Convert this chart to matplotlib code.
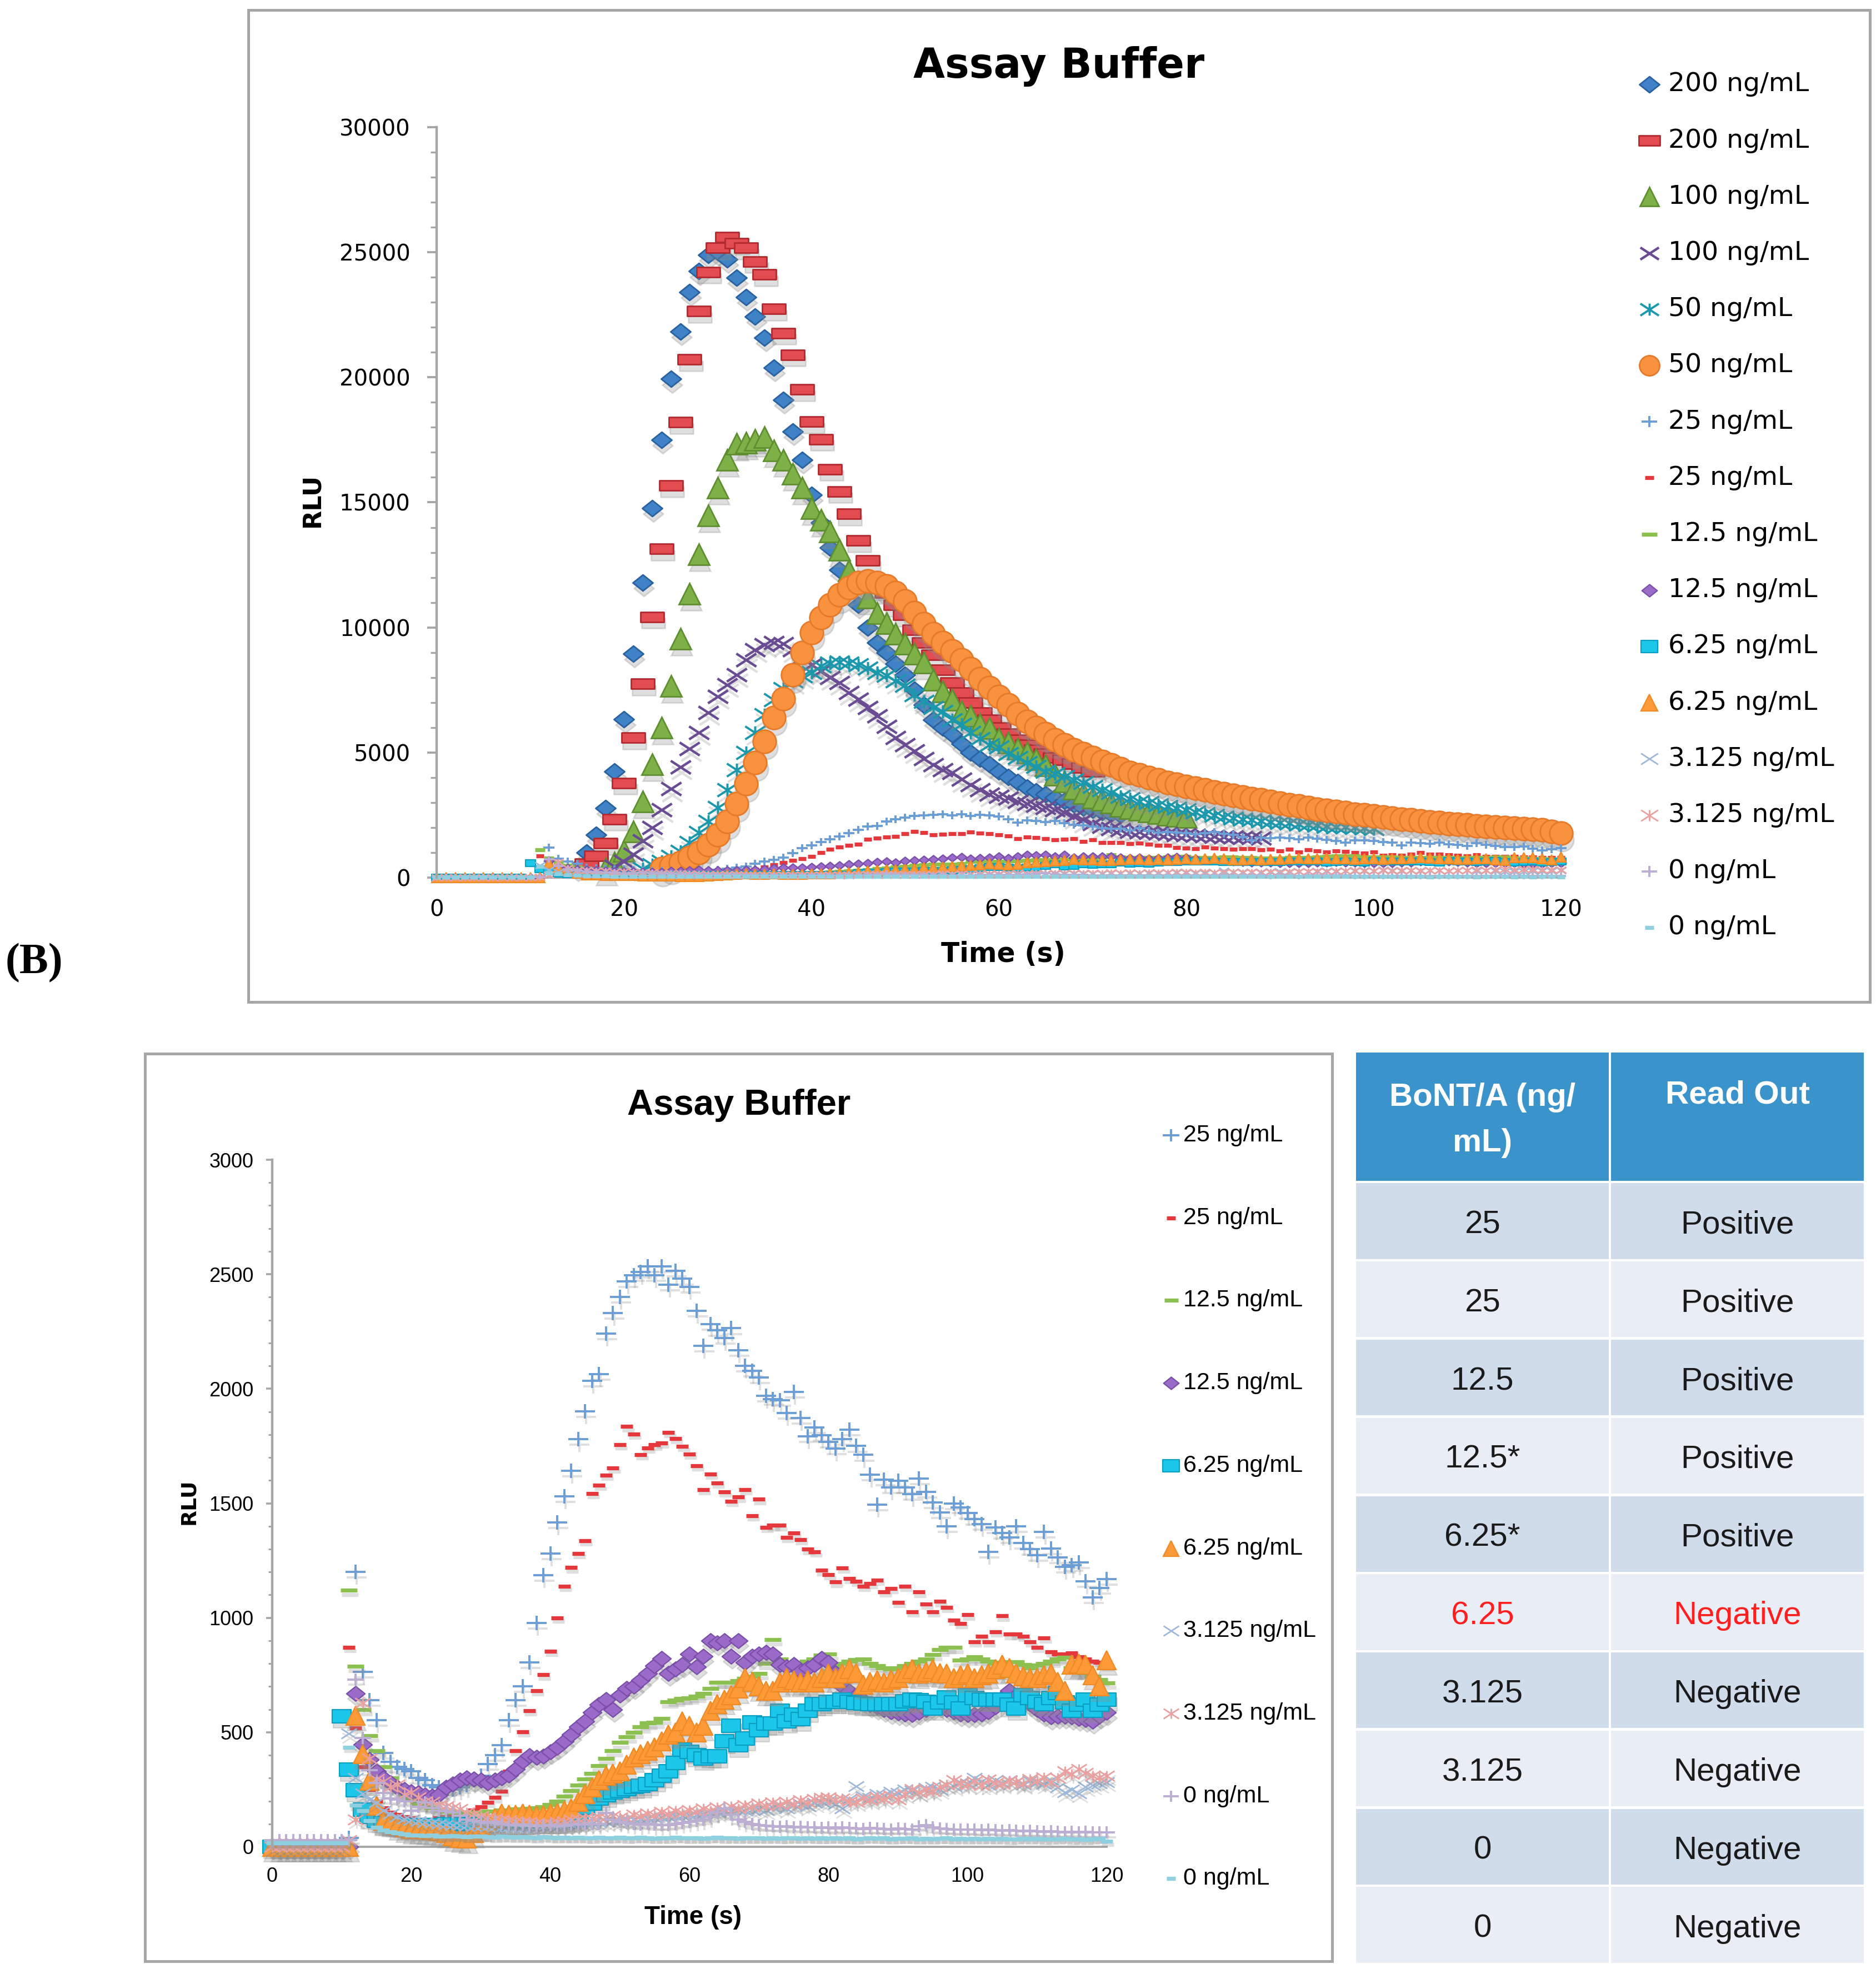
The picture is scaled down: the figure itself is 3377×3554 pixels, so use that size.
import matplotlib
matplotlib.use("Agg")
import matplotlib.pyplot as plt
from matplotlib.path import Path
from matplotlib.lines import Line2D
from matplotlib.patches import Rectangle
from matplotlib import transforms
from matplotlib.ticker import MultipleLocator

# %% data ---------------------------------------------------------------

time_s = list(range(0, 121))

# high concentrations (only in the upper chart); each list starts at its own second
start_200a, start_200b, start_100a, start_100b, start_50a, start_50b = 15, 16, 18, 19, 22, 24

blue_200a = [400, 1000, 1700, 2770, 4240, 6330, 8950, 11800, 14760, 17490,
             19930, 21830, 23400, 24240, 24900, 25000, 24720, 23990, 23210, 22420,
             21590, 20390, 19100, 17840, 16700, 15300, 14200, 13200, 12300, 11600,
             10900, 10000, 9400, 9000, 8550, 8100, 7500, 6900, 6300, 6000,
             5720, 5350, 5000, 4750, 4520, 4250, 4030, 3830, 3600, 3450,
             3320, 3200, 3070, 2930, 2800, 2700, 2620, 2560, 2500]

red_200b = [550, 870, 1380, 2340, 3780, 5590, 7750, 10420, 13140, 15680,
            18210, 20720, 22640, 24210, 25180, 25610, 25370, 25180, 24630, 24110,
            22730, 21770, 20900, 19520, 18230, 17530, 16330, 15440, 14540, 13470,
            12690, 11900, 11400, 10900, 10500, 9900, 9400, 8900, 8300, 7800,
            7400, 7000, 6600, 6300, 6000, 5750, 5500, 5300, 5100, 4950,
            4800, 4700, 4550, 4400, 4250]

green_100a = [350, 600, 1070, 1845, 3044, 4520, 5996, 7657, 9539, 11347,
              12915, 14483, 15590, 16697, 17343, 17380, 17490, 17620, 17066, 16700,
              16144, 15590, 14760, 14300, 13840, 13100, 12270, 11810, 11200, 10570,
              10160, 9750, 9340, 8950, 8600, 7900, 7450, 7100, 6630, 6460,
              6130, 5970, 5560, 5400, 5150, 4990, 4740, 4490, 4100, 3850,
              3550, 3380, 3200, 3100, 3000, 2870, 2780, 2700, 2640, 2570,
              2510, 2460, 2420]

purple_100b = [450, 650, 922, 1476, 1993, 2712, 3542, 4428, 5150, 5800,
               6600, 7250, 7700, 8100, 8700, 9100, 9300, 9400, 9350, 9100,
               8800, 8500, 8250, 8000, 7800, 7400, 7120, 6790, 6460, 6050,
               5600, 5310, 5070, 4760, 4500, 4300, 4200, 3920, 3700, 3500,
               3340, 3250, 3180, 3050, 2950, 2890, 2800, 2700, 2600, 2450,
               2300, 2150, 2050, 1950, 1900, 1850, 1820, 1800, 1780, 1750,
               1720, 1700, 1680, 1660, 1640, 1630, 1620, 1600, 1590, 1580]

teal_50a = [350, 500, 650, 850, 1050, 1400, 1800, 2250, 2800, 3500,
            4300, 5000, 5800, 6500, 7100, 7550, 7850, 8050, 8200, 8450,
            8580, 8610, 8580, 8500, 8370, 8200, 8080, 7850, 7680, 7300,
            7040, 6800, 6630, 6300, 6130, 5800, 5550, 5300, 5220, 4950,
            4800, 4600, 4450, 4250, 4150, 4050, 3900, 3800, 3650, 3500,
            3400, 3250, 3150, 3050, 3000, 2900, 2850, 2780, 2700, 2620,
            2550, 2480, 2420, 2380, 2340, 2300, 2260, 2230, 2200, 2170,
            2140, 2110, 2080, 2050, 2030, 2010, 1990, 1970, 1950]

orange_50b = [360, 470, 600, 800, 1000, 1300, 1700, 2250, 2950, 3750,
              4600, 5450, 6400, 7150, 8100, 9000, 9800, 10400, 10900, 11300,
              11600, 11800, 11850, 11800, 11650, 11400, 11050, 10600, 10150, 9750,
              9400, 9050, 8700, 8350, 7950, 7600, 7250, 6900, 6550, 6250,
              6000, 5750, 5500, 5300, 5100, 4950, 4800, 4650, 4500, 4350,
              4200, 4100, 4000, 3900, 3800, 3720, 3650, 3570, 3500, 3420,
              3350, 3280, 3210, 3150, 3100, 3040, 2980, 2920, 2860, 2800,
              2740, 2690, 2640, 2590, 2540, 2500, 2460, 2420, 2380, 2340,
              2300, 2260, 2220, 2190, 2160, 2130, 2100, 2070, 2040, 2020,
              2000, 1980, 1960, 1940, 1900, 1850, 1780]

# low concentrations (both charts), one value per second 0..120
blue_25a = [0, 0, 0, 0, 0, 0, 0, 0, 0, 0,
            0, 40, 1200, 764, 640, 554, 410, 370, 350, 340,
            331, 300, 290, 270, 260, 250, 250, 260, 270, 290,
            310, 361, 400, 445, 554, 641, 700, 805, 978, 1185,
            1280, 1416, 1531, 1641, 1780, 1901, 2034, 2065, 2240, 2330,
            2401, 2468, 2496, 2510, 2534, 2496, 2534, 2454, 2515, 2480,
            2445, 2340, 2188, 2282, 2255, 2221, 2264, 2169, 2100, 2078,
            2050, 1970, 1955, 1951, 1894, 1987, 1873, 1793, 1831, 1797,
            1768, 1740, 1780, 1821, 1750, 1711, 1626, 1494, 1603, 1569,
            1599, 1570, 1540, 1609, 1550, 1504, 1460, 1399, 1498, 1483,
            1457, 1430, 1409, 1289, 1394, 1370, 1350, 1399, 1327, 1300,
            1274, 1375, 1303, 1264, 1223, 1230, 1242, 1160, 1090, 1130,
            1169]

red_25b = [0, 0, 0, 0, 0, 0, 0, 0, 0, 0,
           0, 871, 520, 350, 250, 200, 170, 150, 140, 130,
           125, 120, 120, 120, 125, 130, 135, 140, 150, 160,
           175, 195, 215, 243, 330, 420, 502, 595, 681, 751,
           854, 1000, 1137, 1219, 1280, 1337, 1542, 1580, 1622, 1654,
           1757, 1835, 1802, 1713, 1742, 1755, 1764, 1810, 1783, 1749,
           1715, 1664, 1559, 1628, 1588, 1550, 1508, 1527, 1559, 1445,
           1517, 1394, 1403, 1403, 1352, 1371, 1342, 1299, 1289, 1207,
           1188, 1156, 1217, 1171, 1160, 1137, 1150, 1164, 1114, 1128,
           1067, 1137, 1027, 1112, 1061, 1027, 1071, 1046, 989, 975,
           1013, 896, 919, 896, 938, 1008, 928, 928, 919, 896,
           871, 913, 852, 842, 842, 846, 830, 820, 810, 804,
           790]

green_12a = [0, 0, 0, 0, 0, 0, 0, 0, 0, 0,
             0, 1120, 788, 600, 486, 420, 350, 300, 260, 230,
             210, 190, 180, 170, 160, 155, 150, 150, 150, 150,
             150, 155, 155, 160, 160, 165, 165, 168, 169, 175,
             185, 200, 220, 245, 270, 295, 320, 354, 386, 420,
             455, 480, 500, 525, 540, 544, 560, 633, 640, 647,
             650, 658, 670, 690, 719, 719, 719, 725, 735, 745,
             757, 800, 905, 820, 800, 790, 800, 810, 820, 837,
             842, 791, 800, 810, 818, 820, 800, 790, 780, 776,
             780, 790, 800, 810, 820, 840, 860, 871, 871, 814,
             820, 829, 820, 810, 800, 805, 808, 808, 795, 780,
             794, 800, 810, 820, 827, 781, 770, 760, 745, 730,
             716]

purple_12b = [0, 0, 0, 0, 0, 0, 0, 0, 0, 0,
              0, 0, 670, 446, 380, 330, 300, 280, 260, 250,
              240, 235, 225, 220, 229, 260, 275, 290, 300, 295,
              290, 280, 290, 300, 313, 340, 373, 398, 390, 396,
              415, 434, 462, 491, 525, 548, 586, 620, 643, 600,
              662, 690, 700, 728, 757, 790, 823, 757, 776, 795,
              842, 785, 833, 900, 890, 900, 833, 900, 804, 833,
              842, 850, 842, 795, 785, 795, 766, 780, 795, 823,
              804, 760, 700, 680, 660, 640, 620, 610, 600, 590,
              585, 580, 576, 587, 600, 610, 620, 600, 590, 580,
              576, 576, 580, 590, 610, 650, 681, 660, 640, 624,
              600, 580, 567, 570, 570, 567, 560, 555, 548, 570,
              586]

cyan_6a = [0, 0, 0, 0, 0, 0, 0, 0, 0, 0,
           570, 337, 247, 163, 130, 115, 105, 100, 95, 95,
           95, 95, 95, 95, 95, 100, 100, 100, 100, 100,
           100, 100, 100, 105, 105, 105, 105, 105, 110, 110,
           110, 110, 110, 115, 120, 170, 190, 210, 225, 238,
           244, 253, 263, 266, 275, 291, 310, 329, 367, 424,
           415, 400, 386, 396, 396, 460, 529, 443, 472, 544,
           510, 538, 538, 595, 548, 576, 557, 595, 624, 624,
           633, 633, 643, 633, 628, 625, 624, 624, 624, 624,
           624, 635, 643, 640, 633, 605, 630, 652, 630, 605,
           662, 650, 643, 643, 643, 643, 620, 605, 662, 650,
           633, 624, 650, 671, 630, 595, 620, 643, 595, 620,
           643]

orange_6b = [0, 0, 0, 0, 0, 0, 0, 0, 0, 0,
             0, 0, 572, 404, 289, 180, 114, 108, 95, 85,
             78, 78, 75, 72, 68, 60, 45, 40, 36, 60,
             90, 110, 125, 145, 140, 140, 145, 140, 135, 139,
             145, 149, 158, 168, 196, 230, 260, 290, 310, 320,
             329, 358, 390, 405, 420, 434, 462, 491, 500, 548,
             529, 500, 529, 595, 624, 643, 662, 690, 738, 720,
             700, 681, 681, 719, 738, 728, 719, 728, 719, 738,
             757, 738, 757, 776, 760, 709, 720, 728, 719, 730,
             738, 760, 776, 757, 765, 776, 760, 757, 738, 750,
             757, 738, 750, 757, 776, 795, 780, 757, 745, 738,
             738, 750, 757, 720, 681, 795, 800, 795, 750, 700,
             814]

lblue_3a = [0, 0, 0, 0, 0, 0, 0, 0, 0, 0,
            0, 494, 300, 232, 205, 193, 157, 142, 131, 122,
            116, 111, 107, 104, 100, 97, 95, 94, 91, 90,
            89, 87, 88, 85, 84, 86, 83, 85, 86, 88,
            87, 91, 93, 96, 99, 101, 103, 106, 109, 111,
            113, 116, 119, 121, 123, 126, 129, 131, 133, 136,
            139, 141, 143, 147, 151, 153, 156, 161, 158, 163,
            166, 159, 171, 176, 167, 181, 186, 177, 191, 196,
            201, 187, 168, 209, 264, 221, 214, 231, 226, 241,
            236, 251, 244, 237, 256, 262, 249, 271, 264, 281,
            276, 300, 286, 268, 291, 279, 291, 284, 271, 289,
            281, 274, 292, 259, 238, 251, 234, 262, 269, 276,
            282]

pink_3b = [0, 0, 0, 0, 0, 0, 0, 0, 0, 0,
           0, 30, 120, 627, 386, 295, 285, 262, 271, 229,
           238, 215, 200, 196, 183, 178, 172, 165, 150, 142,
           136, 128, 124, 119, 116, 112, 110, 108, 104, 102,
           105, 108, 112, 118, 121, 126, 124, 131, 128, 136,
           129, 124, 141, 133, 146, 138, 152, 144, 158, 149,
           161, 152, 167, 158, 172, 163, 178, 168, 183, 174,
           188, 179, 193, 184, 197, 187, 203, 194, 209, 213,
           216, 206, 212, 199, 196, 211, 204, 218, 209, 222,
           206, 231, 253, 238, 249, 243, 262, 271, 291, 277,
           272, 287, 268, 293, 279, 274, 289, 283, 277, 296,
           289, 302, 282, 301, 329, 318, 339, 322, 311, 304,
           310]

lav_0a = [30, 30, 30, 30, 30, 30, 30, 30, 30, 30,
          30, 30, 729, 476, 334, 280, 235, 211, 205, 199,
          157, 175, 193, 170, 157, 155, 151, 135, 120, 115,
          110, 105, 108, 100, 98, 95, 97, 92, 90, 92,
          95, 90, 93, 98, 100, 96, 100, 100, 148, 120,
          110, 105, 100, 98, 102, 97, 95, 95, 100, 105,
          110, 115, 120, 130, 150, 168, 140, 120, 110, 100,
          95, 92, 90, 88, 90, 85, 88, 84, 86, 82,
          85, 80, 84, 82, 80, 78, 82, 80, 78, 76,
          80, 78, 75, 90, 95, 85, 80, 78, 76, 74,
          76, 74, 72, 75, 73, 70, 72, 70, 68, 70,
          68, 66, 68, 65, 64, 66, 63, 65, 62, 64,
          62]

lcyan_0b = [18, 18, 18, 18, 18, 18, 18, 18, 18, 18,
            18, 434, 181, 157, 114, 84, 72, 66, 60, 55,
            52, 50, 48, 50, 47, 45, 48, 46, 44, 45,
            46, 44, 42, 45, 43, 41, 44, 42, 40, 43,
            41, 40, 42, 39, 41, 40, 38, 42, 40, 39,
            41, 38, 40, 42, 39, 37, 40, 38, 41, 39,
            38, 40, 37, 39, 41, 38, 40, 36, 39, 38,
            40, 37, 39, 36, 38, 40, 37, 39, 36, 38,
            37, 39, 36, 38, 35, 37, 39, 36, 38, 35,
            37, 36, 38, 35, 37, 34, 36, 38, 35, 37,
            34, 36, 35, 37, 34, 36, 33, 35, 37, 34,
            36, 33, 35, 34, 36, 33, 35, 32, 34, 36,
            25]

labels_high = ["200 ng/mL", "200 ng/mL", "100 ng/mL", "100 ng/mL", "50 ng/mL", "50 ng/mL"]
labels_low = ["25 ng/mL", "25 ng/mL", "12.5 ng/mL", "12.5 ng/mL", "6.25 ng/mL",
              "6.25 ng/mL", "3.125 ng/mL", "3.125 ng/mL", "0 ng/mL", "0 ng/mL"]

table_conc = ["25", "25", "12.5", "12.5*", "6.25*", "6.25", "3.125", "3.125", "0", "0"]
table_read = ["Positive", "Positive", "Positive", "Positive", "Positive",
              "Negative", "Negative", "Negative", "Negative", "Negative"]
table_flag = [False, False, False, False, False, True, False, False, False, False]

# %% marker shapes / styles --------------------------------------------

M, L = Path.MOVETO, Path.LINETO
DIAMOND = Path([(-1, 0), (0, 0.8), (1, 0), (0, -0.8), (-1, 0)], closed=True)
RECT = Path([(-1, -0.45), (1, -0.45), (1, 0.45), (-1, 0.45), (-1, -0.45)], closed=True)
BOX = Path([(-1, -0.7), (1, -0.7), (1, 0.7), (-1, 0.7), (-1, -0.7)], closed=True)
XMARK = Path([(-1, -0.65), (1, 0.65), (-1, 0.65), (1, -0.65)], [M, L, M, L])
STAR = Path([(-1, -0.65), (1, 0.65), (-1, 0.65), (1, -0.65), (0, -0.65), (0, 0.65)], [M, L, M, L, M, L])
PLUS = Path([(-1, 0), (1, 0), (0, -0.7), (0, 0.7)], [M, L, M, L])
DASH = Path([(-1, 0), (1, 0)], [M, L])

# (marker, face, edge, edge width)
style_high = [
    (DIAMOND, "#3F83C6", "#2A62A0", 1.0),
    (RECT, "#E24B50", "#B02A30", 1.0),
    ("^", "#7DB046", "#5E8E30", 1.0),
    (XMARK, "none", "#6A4C93", 1.6),
    (STAR, "none", "#1B98AC", 1.4),
    ("o", "#F8923E", "#E57A2A", 1.0),
]
size_high = [13, 15, 14, 13, 13, 15]

style_low = [
    (PLUS, "none", "#6C9ED6", 1.4),
    (DASH, "none", "#E5383D", 2.6),
    (DASH, "none", "#8CC152", 2.6),
    (DIAMOND, "#9A6BC8", "#7A4FA8", 0.8),
    (BOX, "#1CC8EA", "#0A9EC0", 0.8),
    ("^", "#FB9A37", "#F08A25", 0.8),
    (XMARK, "none", "#9DB8D9", 1.0),
    (STAR, "none", "#E9A09E", 1.0),
    (PLUS, "none", "#BBAED2", 1.4),
    (DASH, "none", "#8ECFE0", 2.6),
]
size_low_bottom = [13, 8, 10.5, 12, 12, 12.5, 10, 10, 11, 8]
size_low_top = [7, 5, 6.5, 6.5, 6.5, 6.5, 6.5, 6.5, 6.5, 5]
size_leg_top = [13, 14, 12, 12, 12, 13, 10, 6, 10, 10, 11, 11, 11, 11, 10, 6]
size_leg_bottom = [11, 6, 9, 10, 11, 10, 10, 10, 10, 6]

W, H, DPI = 3377, 3554, 200
fig = plt.figure(figsize=(W / DPI, H / DPI), dpi=DPI)
fig.patch.set_facecolor("white")


def fxy(px, py):
    return px / W, 1 - py / H


def draw(ax, x, y, st, ms, shadow=True):
    mk, fc, ec, mew = st
    if shadow:
        tr = transforms.offset_copy(ax.transData, fig=fig, x=0.8, y=-ms * 0.28, units="points")
        ax.plot(x, y, ls="none", marker=mk, ms=ms, mfc="#8c8c8c" if fc != "none" else "none",
                mec="#8c8c8c", mew=mew, alpha=0.28, transform=tr, clip_on=False, zorder=2)
    ax.plot(x, y, ls="none", marker=mk, ms=ms, mfc=fc, mec=ec, mew=mew, clip_on=False, zorder=2)


def legend_item(px, py, st, ms, label, tx, fs, family):
    mk, fc, ec, mew = st
    x, y = fxy(px, py)
    fig.add_artist(Line2D([x], [y], transform=fig.transFigure, ls="none", marker=mk, ms=ms,
                          mfc=fc, mec=ec, mew=mew))
    fig.text(fxy(tx, py)[0], y, label, fontsize=fs, family=family, va="center", ha="left")


def style_axis(ax, color="#A6A6A6"):
    for s in ["top", "right"]:
        ax.spines[s].set_visible(False)
    ax.spines["left"].set_color(color)
    ax.spines["left"].set_linewidth(1.6)
    ax.spines["bottom"].set_color(color)
    ax.spines["bottom"].set_linewidth(1.4)
    ax.spines["bottom"].set_zorder(0.5)
    ax.set_facecolor("none")


WIDE = ["DejaVu Sans"]
NARROW = ["Liberation Sans", "DejaVu Sans"]
low_series = [blue_25a, red_25b, green_12a, purple_12b, cyan_6a, orange_6b,
              lblue_3a, pink_3b, lav_0a, lcyan_0b]
high_series = [blue_200a, red_200b, green_100a, purple_100b, teal_50a, orange_50b]
high_starts = [start_200a, start_200b, start_100a, start_100b, start_50a, start_50b]

# %% upper chart ---------------------------------------------------------

x0, y0 = fxy(786, 1580)
x1, y1 = fxy(2810, 229)
ax1 = fig.add_axes([x0, y0, x1 - x0, y1 - y0])
style_axis(ax1)
ax1.set_xlim(0, 120)
ax1.set_ylim(0, 30000)

for vals, st0, st, ms in zip(high_series, high_starts, style_high, size_high):
    draw(ax1, time_s[st0:st0 + len(vals)], vals, st, ms)
for vals, st, ms in zip(low_series, style_low, size_low_top):
    draw(ax1, time_s[:len(vals)], vals, st, ms, shadow=False)

ax1.set_xticks([0, 20, 40, 60, 80, 100, 120])
ax1.yaxis.set_major_locator(MultipleLocator(5000))
ax1.yaxis.set_minor_locator(MultipleLocator(1000))
ax1.tick_params(axis="x", length=0, pad=14, labelsize=14.5)
ax1.tick_params(axis="y", which="major", length=6, width=1.4, color="#A6A6A6", pad=11, labelsize=14.5)
ax1.tick_params(axis="y", which="minor", length=4, width=1.2, color="#A6A6A6")
for lab in ax1.get_xticklabels() + ax1.get_yticklabels():
    lab.set_family(WIDE)

fig.text(*fxy(1906, 120), "Assay Buffer", fontsize=26.5, fontweight="bold", family=WIDE,
         ha="center", va="center")
fig.text(*fxy(562, 900), "RLU", fontsize=16, fontweight="bold", family=WIDE,
         rotation=90, ha="center", va="center")
fig.text(*fxy(1806, 1718), "Time (s)", fontsize=17.5, fontweight="bold", family=WIDE,
         ha="center", va="center")

top_styles = style_high + style_low
top_labels = labels_high + labels_low
for i, (st, lab) in enumerate(zip(top_styles, top_labels)):
    legend_item(2969, 152 + i * 101.2, st, size_leg_top[i], lab, 3003, 17, WIDE)

fig.add_artist(Rectangle(fxy(447, 1804), (3366 - 447) / W, (1804 - 18) / H,
                         transform=fig.transFigure, fill=False, ec="#A6A6A6", lw=1.8))

fig.text(*fxy(10, 1734), "(B)", fontsize=28, fontweight="bold", family=["Liberation Serif", "DejaVu Serif"],
         ha="left", va="center")

# %% lower chart ---------------------------------------------------------

x0, y0 = fxy(490, 3325)
x1, y1 = fxy(1992, 2088)
ax2 = fig.add_axes([x0, y0, x1 - x0, y1 - y0])
style_axis(ax2)
ax2.set_xlim(0, 120)
ax2.set_ylim(0, 3000)

for vals, st, ms in zip(low_series, style_low, size_low_bottom):
    draw(ax2, time_s[:len(vals)], vals, st, ms)

ax2.set_xticks([0, 20, 40, 60, 80, 100, 120])
ax2.yaxis.set_major_locator(MultipleLocator(500))
ax2.yaxis.set_minor_locator(MultipleLocator(100))
ax2.tick_params(axis="x", length=0, pad=13, labelsize=13)
ax2.tick_params(axis="y", which="major", length=4, width=1.3, color="#A6A6A6", pad=8, labelsize=13)
ax2.tick_params(axis="y", which="minor", length=2.7, width=1.1, color="#A6A6A6")
for lab in ax2.get_xticklabels() + ax2.get_yticklabels():
    lab.set_family(NARROW)

fig.text(*fxy(1330, 1990), "Assay Buffer", fontsize=23.5, fontweight="bold", family=NARROW,
         ha="center", va="center")
fig.text(*fxy(340, 2704), "RLU", fontsize=13.6, fontweight="bold", family=WIDE,
         rotation=90, ha="center", va="center")
fig.text(*fxy(1247, 3452), "Time (s)", fontsize=16.5, fontweight="bold", family=NARROW,
         ha="center", va="center")

for i, (st, lab) in enumerate(zip(style_low, labels_low)):
    legend_item(2108, 2044 + i * 148.7, st, size_leg_bottom[i], lab, 2130, 15.5, NARROW)

fig.add_artist(Rectangle(fxy(261, 3531), (2398 - 261) / W, (3531 - 1897) / H,
                         transform=fig.transFigure, fill=False, ec="#A6A6A6", lw=1.8))

# %% table ---------------------------------------------------------------

x0, y0 = fxy(2439, 3536)
x1, y1 = fxy(3357, 1893)
axt = fig.add_axes([x0, y0, x1 - x0, y1 - y0])
axt.set_axis_off()
head_h = 1.67
n_rows = len(table_conc)
axt.set_xlim(0, 2)
axt.set_ylim(n_rows + head_h, 0)
gx, gy = 0.005, 0.016

for c in range(2):
    axt.add_patch(Rectangle((c + gx, gy), 1 - 2 * gx, head_h - 2 * gy, fc="#3A93CA", ec="none"))
axt.text(0.5, 0.88, "BoNT/A (ng/\nmL)", ha="center", va="center", color="white",
         fontsize=21, fontweight="bold", family=NARROW, linespacing=1.65)
axt.text(1.5, 0.56, "Read Out", ha="center", va="center", color="white",
         fontsize=21, fontweight="bold", family=NARROW)

for r in range(n_rows):
    top = head_h + r
    shade = "#D1DCEA" if r % 2 == 0 else "#E9EEF6"
    for c in range(2):
        axt.add_patch(Rectangle((c + gx, top + gy), 1 - 2 * gx, 1 - 2 * gy, fc=shade, ec="none"))
    col = "#FF1F1F" if table_flag[r] else "#1A1A1A"
    axt.text(0.5, top + 0.55, table_conc[r], ha="center", va="center", color=col,
             fontsize=21, family=NARROW)
    axt.text(1.5, top + 0.55, table_read[r], ha="center", va="center", color=col,
             fontsize=21, family=NARROW)

fig.savefig("out.png", dpi=DPI)
